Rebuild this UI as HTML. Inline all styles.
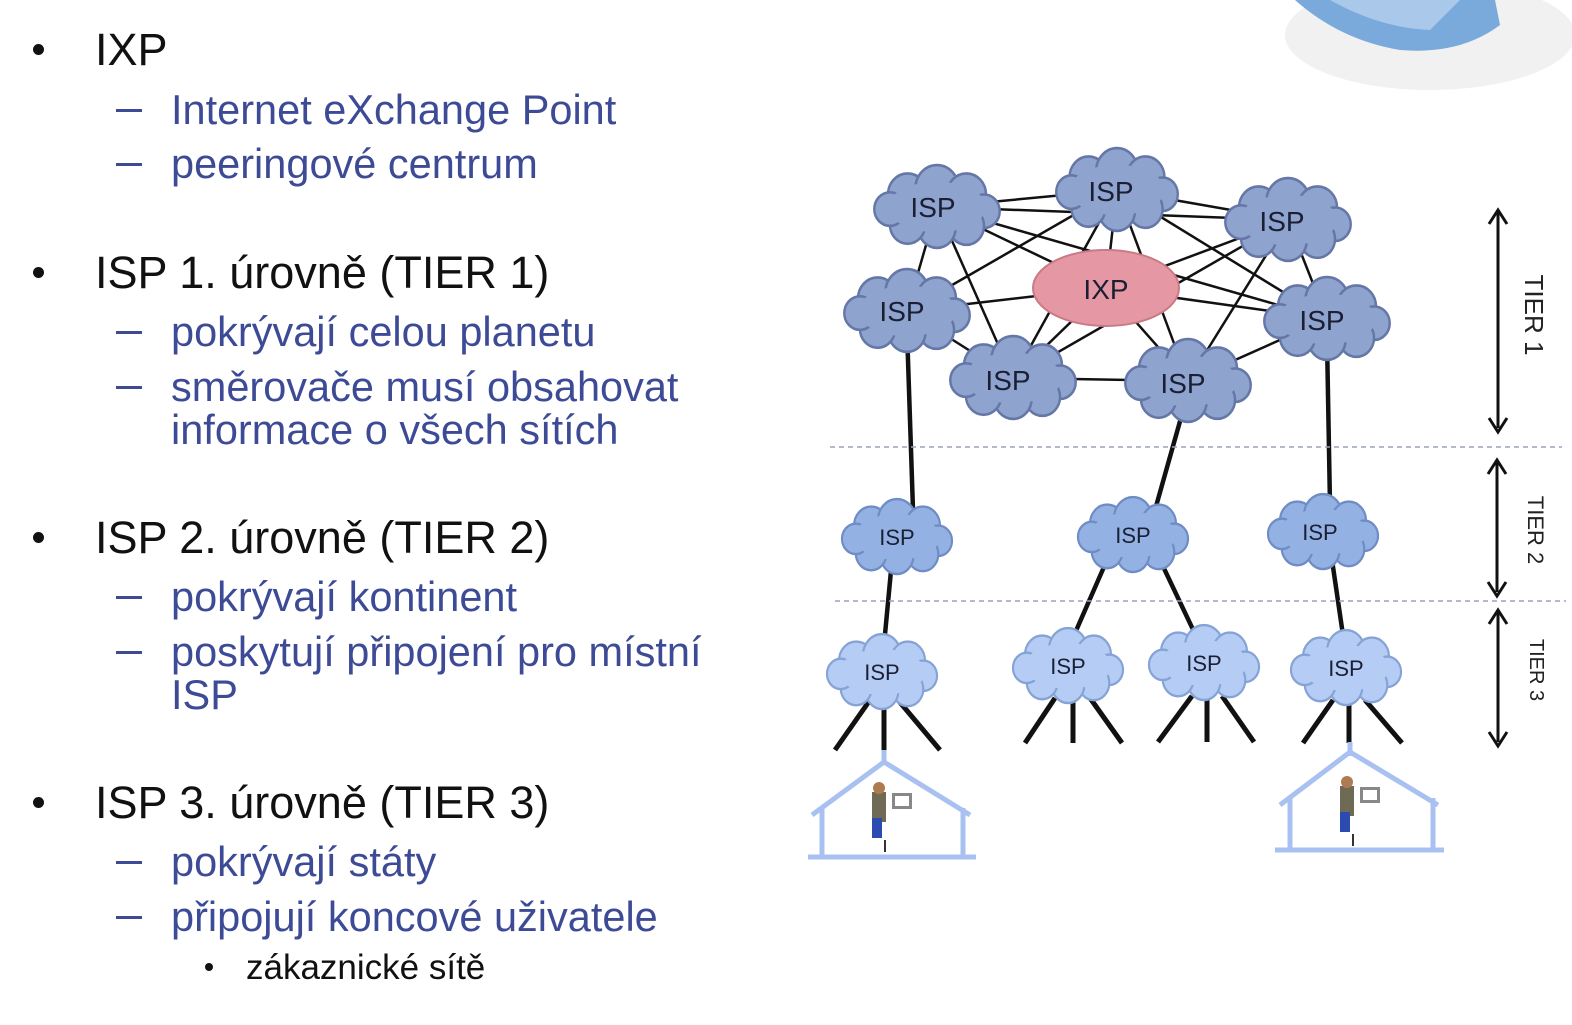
<!DOCTYPE html>
<html><head><meta charset="utf-8"><style>
body{margin:0;width:1572px;height:1025px;background:#fff;position:relative;overflow:hidden;font-family:"Liberation Sans",sans-serif}
.t{position:absolute;white-space:nowrap;line-height:1}
.m{font-size:45px;color:#111;left:95px}
.s{font-size:41.5px;color:#3d4b96;left:171px}
.b{position:absolute;width:11px;height:11px;border-radius:50%;background:#111;left:33px}
.d{position:absolute;width:26px;height:3px;background:#3d4b96;left:116px}
</style></head><body>
<div class="b" style="top:44px"></div><div class="t m" style="top:27px">IXP</div>
<div class="d" style="top:109px"></div><div class="t s" style="top:89px">Internet eXchange Point</div>
<div class="d" style="top:163px"></div><div class="t s" style="top:143px">peeringové centrum</div>

<div class="b" style="top:267px"></div><div class="t m" style="top:250px">ISP 1. úrovně (TIER 1)</div>
<div class="d" style="top:331px"></div><div class="t s" style="top:311px">pokrývají celou planetu</div>
<div class="d" style="top:386px"></div><div class="t s" style="top:366px">směrovače musí obsahovat</div>
<div class="t s" style="top:409px">informace o všech sítích</div>

<div class="b" style="top:532px"></div><div class="t m" style="top:515px">ISP 2. úrovně (TIER 2)</div>
<div class="d" style="top:596px"></div><div class="t s" style="top:576px">pokrývají kontinent</div>
<div class="d" style="top:651px"></div><div class="t s" style="top:631px">poskytují připojení pro místní</div>
<div class="t s" style="top:674px">ISP</div>

<div class="b" style="top:797px"></div><div class="t m" style="top:780px">ISP 3. úrovně (TIER 3)</div>
<div class="d" style="top:861px"></div><div class="t s" style="top:841px">pokrývají státy</div>
<div class="d" style="top:916px"></div><div class="t s" style="top:896px">připojují koncové uživatele</div>
<div class="b" style="top:963px;left:205px;width:8px;height:8px"></div>
<div class="t" style="top:950px;left:246px;font-size:35px;color:#111">zákaznické sítě</div>

<svg style="position:absolute;left:0;top:0" width="1572" height="1025" viewBox="0 0 1572 1025">
<defs>
<g id="cl">
<g stroke-width="2.5">
<circle cx="-30" cy="-12" r="20"/><circle cx="0" cy="-18" r="22"/><circle cx="30" cy="-12" r="20"/>
<circle cx="48" cy="4" r="16"/><circle cx="30" cy="18" r="18"/><circle cx="0" cy="20" r="19"/>
<circle cx="-30" cy="17" r="18"/><circle cx="-48" cy="2" r="16"/>
</g>
<ellipse cx="0" cy="0" rx="50" ry="24" stroke="none"/>
</g>
</defs>
<ellipse cx="1430" cy="35" rx="145" ry="55" fill="#f1f1f1"/>
<path d="M1295,0 Q1340,40 1400,50 Q1460,55 1500,25 L1495,0 Z" fill="#7aa9dc"/>
<path d="M1330,0 Q1380,28 1430,30 L1460,0 Z" fill="#a9c8ea"/>
<g stroke="#111" stroke-width="2.5">
<line x1="937" y1="207" x2="1117" y2="190"/><line x1="937" y1="207" x2="1288" y2="220"/>
<line x1="937" y1="207" x2="907" y2="311"/><line x1="937" y1="207" x2="1013" y2="378"/>
<line x1="937" y1="207" x2="1106" y2="288"/><line x1="937" y1="207" x2="1327" y2="319"/>
<line x1="1117" y1="190" x2="1288" y2="220"/><line x1="1117" y1="190" x2="907" y2="311"/>
<line x1="1117" y1="190" x2="1106" y2="288"/><line x1="1117" y1="190" x2="1188" y2="381"/>
<line x1="1117" y1="190" x2="1327" y2="319"/><line x1="1117" y1="190" x2="1013" y2="378"/>
<line x1="1288" y1="220" x2="1106" y2="288"/><line x1="1288" y1="220" x2="1188" y2="381"/>
<line x1="1288" y1="220" x2="1327" y2="319"/><line x1="1288" y1="220" x2="1013" y2="378"/>
<line x1="1106" y1="288" x2="907" y2="311"/><line x1="1106" y1="288" x2="1013" y2="378"/>
<line x1="1106" y1="288" x2="1188" y2="381"/><line x1="1106" y1="288" x2="1327" y2="319"/>
<line x1="907" y1="311" x2="1013" y2="378"/><line x1="1013" y1="378" x2="1188" y2="381"/>
<line x1="1188" y1="381" x2="1327" y2="319"/>
</g>
<g stroke="#111" stroke-width="4.5">
<line x1="907" y1="330" x2="913" y2="510"/><line x1="1186" y1="400" x2="1155" y2="510"/>
<line x1="1327" y1="340" x2="1330" y2="505"/>
<line x1="892" y1="560" x2="884" y2="645"/><line x1="1107" y1="560" x2="1072" y2="640"/>
<line x1="1160" y1="560" x2="1197" y2="638"/><line x1="1332" y1="560" x2="1344" y2="642"/>
<g stroke-width="5">
<line x1="870" y1="700" x2="835" y2="750"/><line x1="884" y1="700" x2="884" y2="750"/><line x1="898" y1="700" x2="940" y2="750"/>
<line x1="1055" y1="698" x2="1025" y2="743"/><line x1="1073" y1="698" x2="1073" y2="743"/><line x1="1090" y1="698" x2="1122" y2="743"/>
<line x1="1192" y1="696" x2="1158" y2="742"/><line x1="1207" y1="696" x2="1207" y2="742"/><line x1="1222" y1="696" x2="1254" y2="742"/>
<line x1="1333" y1="700" x2="1303" y2="743"/><line x1="1349" y1="700" x2="1349" y2="743"/><line x1="1365" y1="700" x2="1402" y2="743"/>
</g>
</g>
<g fill="#8fa3cf" stroke="#6577a6">
<use href="#cl" transform="translate(937,207) scale(0.98,1.05)"/>
<use href="#cl" transform="translate(1117,190) scale(0.95,1.05)"/>
<use href="#cl" transform="translate(1288,220) scale(0.98,1.05)"/>
<use href="#cl" transform="translate(907,311) scale(0.98,1.05)"/>
<use href="#cl" transform="translate(1013,378) scale(0.98,1.05)"/>
<use href="#cl" transform="translate(1188,381) scale(0.98,1.05)"/>
<use href="#cl" transform="translate(1327,319) scale(0.98,1.05)"/>
</g>
<ellipse cx="1106" cy="288" rx="73" ry="38" fill="#e598a3" stroke="#c87a86" stroke-width="2"/>
<g fill="#93b1e2" stroke="#6f8cc4">
<use href="#cl" transform="translate(897,537) scale(0.86,0.95)"/>
<use href="#cl" transform="translate(1133,535) scale(0.86,0.95)"/>
<use href="#cl" transform="translate(1323,532) scale(0.86,0.95)"/>
</g>
<g fill="#b5cdf5" stroke="#86a3d6">
<use href="#cl" transform="translate(882,672) scale(0.86,0.95)"/>
<use href="#cl" transform="translate(1068,666) scale(0.86,0.95)"/>
<use href="#cl" transform="translate(1204,663) scale(0.86,0.95)"/>
<use href="#cl" transform="translate(1346,668) scale(0.86,0.95)"/>
</g>
<g font-family="Liberation Sans,sans-serif" fill="#1a1f33" text-anchor="middle">
<g font-size="28">
<text x="933" y="217">ISP</text><text x="1111" y="201">ISP</text><text x="1282" y="231">ISP</text>
<text x="902" y="321">ISP</text><text x="1008" y="390">ISP</text><text x="1183" y="393">ISP</text>
<text x="1322" y="330">ISP</text><text x="1106" y="299">IXP</text>
</g>
<g font-size="22">
<text x="897" y="545">ISP</text><text x="1133" y="543">ISP</text><text x="1320" y="540">ISP</text>
<text x="882" y="680">ISP</text><text x="1068" y="674">ISP</text><text x="1204" y="671">ISP</text><text x="1346" y="676">ISP</text>
</g>
</g>
<g stroke="#9aa2bd" stroke-width="1.5" stroke-dasharray="5,4">
<line x1="830" y1="447" x2="1562" y2="447"/><line x1="835" y1="601" x2="1566" y2="601"/>
</g>
<g stroke="#111" stroke-width="3" fill="none">
<line x1="1498" y1="212" x2="1498" y2="428"/><polyline points="1489,224 1498,210 1507,224"/><polyline points="1489,418 1498,432 1507,418"/>
<line x1="1497" y1="462" x2="1497" y2="592"/><polyline points="1488,474 1497,460 1506,474"/><polyline points="1488,582 1497,596 1506,582"/>
<line x1="1498" y1="612" x2="1498" y2="742"/><polyline points="1489,624 1498,610 1507,624"/><polyline points="1489,732 1498,746 1507,732"/>
</g>
<g font-family="Liberation Sans,sans-serif" fill="#222" text-anchor="middle">
<text transform="translate(1525,315) rotate(90)" font-size="26">TIER 1</text>
<text transform="translate(1528,530) rotate(90)" font-size="22">TIER 2</text>
<text transform="translate(1530,670) rotate(90)" font-size="20">TIER 3</text>
</g>
<g stroke="#a9c1f1" stroke-width="5" fill="none">
<polyline points="812,815 884,762 970,815"/><line x1="808" y1="857" x2="976" y2="857"/>
<line x1="822" y1="808" x2="822" y2="857"/><line x1="963" y1="808" x2="963" y2="857"/>
<line x1="884" y1="750" x2="884" y2="765"/>
<polyline points="1280,805 1350,752 1438,805"/><line x1="1275" y1="850" x2="1444" y2="850"/>
<line x1="1290" y1="798" x2="1290" y2="850"/><line x1="1433" y1="798" x2="1433" y2="850"/>
<line x1="1350" y1="742" x2="1350" y2="756"/>
</g>
<g>
<rect x="872" y="792" width="14" height="30" fill="#6f6a55"/><circle cx="879" cy="788" r="6" fill="#b07a50"/>
<rect x="892" y="793" width="20" height="16" fill="#888"/><rect x="895" y="796" width="14" height="10" fill="#fff"/>
<rect x="872" y="818" width="10" height="20" fill="#2b4bb0"/><line x1="885" y1="840" x2="885" y2="852" stroke="#333" stroke-width="2"/>
<rect x="1340" y="786" width="14" height="30" fill="#6f6a55"/><circle cx="1347" cy="782" r="6" fill="#b07a50"/>
<rect x="1360" y="787" width="20" height="16" fill="#888"/><rect x="1363" y="790" width="14" height="10" fill="#fff"/>
<rect x="1340" y="812" width="10" height="20" fill="#2b4bb0"/><line x1="1353" y1="834" x2="1353" y2="846" stroke="#333" stroke-width="2"/>
</g>
</svg>
</body></html>
